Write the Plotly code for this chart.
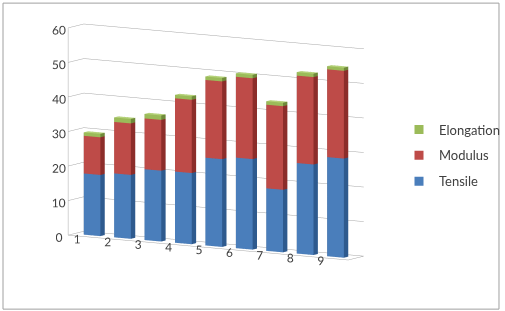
import plotly.graph_objects as go

categories = [1, 2, 3, 4, 5, 6, 7, 8, 9]
series_names = ["Tensile", "Modulus", "Elongation"]
tensile = [17.7, 18.5, 20.5, 20.6, 25.4, 26.2, 18.1, 26.2, 28.7]
modulus = [10.9, 14.9, 14.7, 21.2, 22.5, 23.4, 24.2, 25.3, 25.4]
elongation = [1.0, 1.3, 1.3, 1.0, 1.0, 1.0, 1.0, 1.0, 0.9]
z_ticks = [0, 10, 20, 30, 40, 50, 60]

# colours: (front, side, top)
palette = {
    "Tensile": ("#4A7EBB", "#2E5A8E", "#6E9BD2"),
    "Modulus": ("#BE4B48", "#8C2D2A", "#D06A66"),
    "Elongation": ("#9BBB59", "#6F8A3A", "#B5D27A"),
}

BAR_W = 0.55
Y0, Y1 = 0.36, 0.64


def boxes(values, bases, colors):
    xs, ys, zs, I, J, K, fc = [], [], [], [], [], [], []
    front, side, top = colors
    for c, v, b in zip(categories, values, bases):
        x0, x1 = c - BAR_W / 2, c + BAR_W / 2
        z0, z1 = b, b + v
        n = len(xs)
        pts = [(x0, Y0, z0), (x1, Y0, z0), (x1, Y1, z0), (x0, Y1, z0),
               (x0, Y0, z1), (x1, Y0, z1), (x1, Y1, z1), (x0, Y1, z1)]
        for p in pts:
            xs.append(p[0]); ys.append(p[1]); zs.append(p[2])
        tris = [((0, 1, 2), side), ((0, 2, 3), side),
                ((4, 5, 6), top), ((4, 6, 7), top),
                ((0, 1, 5), front), ((0, 5, 4), front),
                ((3, 2, 6), side), ((3, 6, 7), side),
                ((0, 3, 7), side), ((0, 7, 4), side),
                ((1, 2, 6), side), ((1, 6, 5), side)]
        for (a, bb, cc), col in tris:
            I.append(n + a); J.append(n + bb); K.append(n + cc); fc.append(col)
    return xs, ys, zs, I, J, K, fc


fig = go.Figure()
base = [0.0] * len(categories)
for name, vals in zip(series_names, [tensile, modulus, elongation]):
    xs, ys, zs, I, J, K, fc = boxes(vals, base, palette[name])
    fig.add_trace(go.Mesh3d(x=xs, y=ys, z=zs, i=I, j=J, k=K, facecolor=fc,
                            flatshading=True, showlegend=False, hoverinfo="skip",
                            lighting=dict(ambient=1, diffuse=0, specular=0, roughness=1, fresnel=0)))
    base = [b + v for b, v in zip(base, vals)]

for name in reversed(series_names):
    fig.add_trace(go.Scatter(x=[None], y=[None], mode="markers", name=name,
                             legendgroup=name,
                             marker=dict(symbol="square", size=9, color=palette[name][0])))

axis_common = dict(showbackground=False, showspikes=False, zeroline=False,
                   gridcolor="#A6A6A6", linecolor="#A6A6A6", title=dict(text=""),
                   tickangle=0)

fig.update_layout(
    template="none",
    width=505, height=311,
    margin=dict(l=0, r=0, t=0, b=0),
    paper_bgcolor="white", plot_bgcolor="white",
    font=dict(family="Lato, Open Sans, sans-serif", size=12, color="#404040"),
    xaxis=dict(visible=False), yaxis=dict(visible=False),
    legend=dict(x=0.795, y=0.5, yanchor="middle", xanchor="left",
                traceorder="grouped", tracegroupgap=6, bgcolor="rgba(0,0,0,0)",
                font=dict(size=13, color="#404040"), itemwidth=30),
    scene=dict(
        domain=dict(x=[0.03, 0.83], y=[0.086, 1.0]),
        xaxis=dict(axis_common, range=[0.4, 9.6], tickvals=categories,
                   ticktext=[str(c) for c in categories], showgrid=False,
                   showline=True, mirror=True, ticks=""),
        yaxis=dict(axis_common, range=[0, 1], showgrid=False, showticklabels=False,
                   showline=True, mirror=True, ticks=""),
        zaxis=dict(axis_common, range=[0, 60], tickvals=z_ticks, showgrid=True,
                   showline=True, ticks=""),
        aspectmode="manual", aspectratio=dict(x=2.3, y=0.214, z=1.476),
        camera=dict(eye=dict(x=1.278, y=-2.128, z=0.371), center=dict(x=0, y=0, z=0),
                    projection=dict(type="orthographic")),
        bgcolor="white",
    ),
    shapes=[dict(type="rect", xref="paper", yref="paper", x0=0.006, x1=0.994,
                 y0=0.006, y1=0.99, line=dict(color="#A0A0A0", width=1))],
)

fig.write_html("out.html", config=dict(displayModeBar=False))
